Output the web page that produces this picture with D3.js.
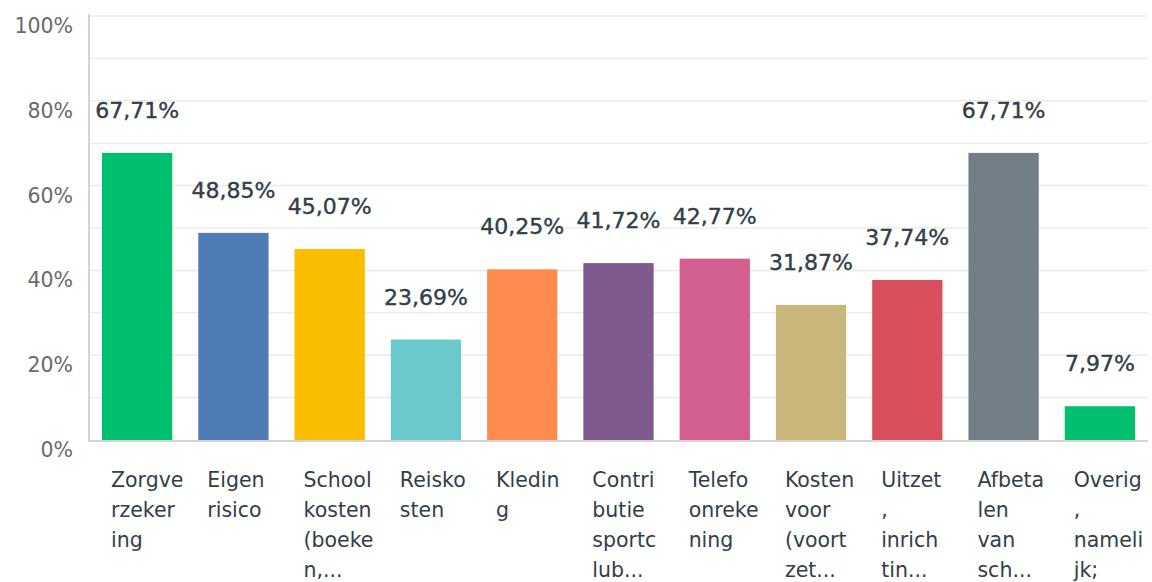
<!DOCTYPE html>
<html>
<head>
<meta charset="utf-8">
<script src="https://cdn.jsdelivr.net/npm/d3@7"></script>
<style>
  body { margin: 0; background: #fff; }
  text { font-family: "DejaVu Sans", sans-serif; }
</style>
</head>
<body>
<div id="chart"></div>
<script>
var categories = [
  ["Zorgve", "rzeker", "ing"],
  ["Eigen", "risico"],
  ["School", "kosten", "(boeke", "n,..."],
  ["Reisko", "sten"],
  ["Kledin", "g"],
  ["Contri", "butie", "sportc", "lub..."],
  ["Telefo", "onreke", "ning"],
  ["Kosten", "voor", "(voort", "zet..."],
  ["Uitzet", ",", "inrich", "tin..."],
  ["Afbeta", "len", "van", "sch..."],
  ["Overig", ",", "nameli", "jk;"]
];
var values = [67.71, 48.85, 45.07, 23.69, 40.25, 41.72, 42.77, 31.87, 37.74, 67.71, 7.97];
var colors = ["#00bf6f", "#507cb6", "#f9be00", "#6bc8cd", "#ff8b4f", "#7f5a8f",
              "#d25f90", "#c9b77b", "#d94f5c", "#747e87", "#00bf6f"];
var yTicks = [0, 20, 40, 60, 80, 100];

function init() {
  var w = 1152, h = 582;
  var svg = d3.select("#chart").append("svg")
      .attr("width", w).attr("height", h);

  var x = d3.scaleBand()
      .domain(d3.range(values.length))
      .range([89, 1148])
      .paddingInner(0.27)
      .paddingOuter(0.135);

  var y = d3.scaleLinear().domain([0, 100]).range([440, 16]);

  // gridlines every 10%
  svg.append("g").selectAll("line")
      .data(d3.range(10, 101, 10))
      .enter().append("line")
      .attr("x1", 89).attr("x2", 1148)
      .attr("y1", function(d) { return y(d); })
      .attr("y2", function(d) { return y(d); })
      .attr("stroke", "#ececec").attr("stroke-width", 1.5);

  // y tick labels (sit a little below their gridline)
  svg.append("g").selectAll("text")
      .data(yTicks)
      .enter().append("text")
      .attr("x", 73)
      .attr("y", function(d) { return y(d) + 17; })
      .attr("text-anchor", "end")
      .attr("font-size", 20.5)
      .attr("fill", "#6a6a6a")
      .text(function(d) { return d + "%"; });

  // bars
  svg.append("g").selectAll("rect")
      .data(values)
      .enter().append("rect")
      .attr("x", function(d, i) { return x(i); })
      .attr("y", function(d) { return y(d); })
      .attr("width", x.bandwidth())
      .attr("height", function(d) { return y(0) - y(d); })
      .attr("fill", function(d, i) { return colors[i]; });

  // axes lines
  svg.append("line")
      .attr("x1", 89).attr("x2", 89).attr("y1", 14).attr("y2", 441)
      .attr("stroke", "#d4d4d4").attr("stroke-width", 2);
  svg.append("line")
      .attr("x1", 88).attr("x2", 1148).attr("y1", y(0) + 1).attr("y2", y(0) + 1)
      .attr("stroke", "#d4d4d4").attr("stroke-width", 2);

  // value labels
  svg.append("g").selectAll("text")
      .data(values)
      .enter().append("text")
      .attr("x", function(d, i) { return x(i) + x.bandwidth() / 2; })
      .attr("y", function(d) { return y(d) - 35; })
      .attr("text-anchor", "middle")
      .attr("font-size", 22)
      .attr("fill", "#333e48")
      .attr("stroke", "#333e48").attr("stroke-width", 0.4)
      .text(function(d) { return d.toFixed(2).replace(".", ",") + "%"; });

  // category labels, already wrapped
  var cat = svg.append("g").selectAll("text")
      .data(categories)
      .enter().append("text")
      .attr("x", function(d, i) { return x(i) + 9; })
      .attr("y", 487)
      .attr("font-size", 20.5)
      .attr("fill", "#333e48");
  cat.selectAll("tspan")
      .data(function(d) { return d; })
      .enter().append("tspan")
      .attr("x", function() { return this.parentNode.getAttribute("x"); })
      .attr("dy", function(d, j) { return j === 0 ? 0 : 30; })
      .text(function(d) { return d; });
}

window.onload = init;
</script>
</body>
</html>
